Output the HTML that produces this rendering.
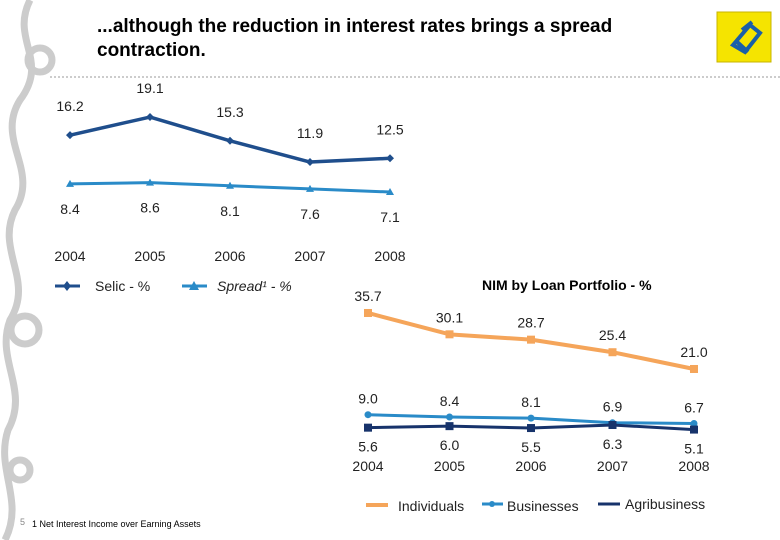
<!DOCTYPE html>
<html><head><meta charset="utf-8"><style>
body{margin:0;background:#fff;}
svg{display:block;font-family:"Liberation Sans",Arial,sans-serif;}
</style></head><body>
<svg id="c" width="780" height="540" viewBox="0 0 780 540">
<g fill="none" stroke="#ccc" stroke-width="7">
<path d="M30 0 C10 40,50 60,20 100 C-5 140,40 170,15 210 C-5 250,35 280,10 320 C-5 360,30 390,8 430 C-5 470,25 500,5 540"/>
<circle cx="40" cy="60" r="12"/><circle cx="25" cy="330" r="14"/><circle cx="20" cy="470" r="10"/>
</g>
<text x="97" y="32" font-size="19" font-weight="bold" fill="#000">...although the reduction in interest rates brings a spread</text>
<text x="97" y="56" font-size="19" font-weight="bold" fill="#000">contraction.</text>
<line x1="50" y1="77" x2="780" y2="77" stroke="#ccc" stroke-width="2" stroke-dasharray="2,2"/>
<g>
<rect x="717" y="12" width="54" height="50" fill="#f5e400" stroke="#c8b400"/>
<path d="M733 45 L750 25 L760 33 L745 52 Z M742 30 L752 22 M735 40 L748 52" fill="none" stroke="#1a5fa8" stroke-width="4"/>
</g>
<g id="left"></g>
<g id="right"></g>
<text x="482" y="290" font-size="14" font-weight="bold">NIM by Loan Portfolio - %</text>
<g>
<line x1="55" y1="286" x2="80" y2="286" stroke="#1f4e8c" stroke-width="3"/><path d="M67 281 L71 286 L67 291 L63 286Z" fill="#1f4e8c"/>
<text x="95" y="291" font-size="14" fill="#222">Selic - %</text>
<line x1="182" y1="286" x2="207" y2="286" stroke="#2a8bc8" stroke-width="3"/><path d="M194 281 L199 290 L189 290Z" fill="#2a8bc8"/>
<text x="217" y="291" font-size="14" font-style="italic" fill="#222">Spread¹ - %</text>
</g>
<g>
<line x1="366" y1="505" x2="388" y2="505" stroke="#f5a55a" stroke-width="4"/>
<text x="398" y="511" font-size="14" fill="#222">Individuals</text>
<line x1="482" y1="504" x2="503" y2="504" stroke="#2a8bc8" stroke-width="3"/><circle cx="492" cy="504" r="3" fill="#2a8bc8"/>
<text x="507" y="511" font-size="14" fill="#222">Businesses</text>
<line x1="598" y1="504" x2="620" y2="504" stroke="#17336b" stroke-width="3"/>
<text x="625" y="509" font-size="14" fill="#222">Agribusiness</text>
</g>
<text x="20" y="525" font-size="9" fill="#888">5</text>
<text x="32" y="527" font-size="9" fill="#000">1  Net Interest Income over Earning Assets</text>
<script>
const years=["2004","2005","2006","2007","2008"];
const selic=[16.2,19.1,15.3,11.9,12.5];
const spread=[8.4,8.6,8.1,7.6,7.1];
const individuals=[35.7,30.1,28.7,25.4,21.0];
const businesses=[9.0,8.4,8.1,6.9,6.7];
const agribusiness=[5.6,6.0,5.5,6.3,5.1];
const NS="http://www.w3.org/2000/svg";
function mk(p,t,a){const e=document.createElementNS(NS,t);for(const k in a)e.setAttribute(k,a[k]);p.appendChild(e);return e;}
function fmt(v){return v.toFixed(1);}
const lx=i=>70+i*80, ly=v=>236.4-6.25*v;
const rx=i=>368+i*81.5, ry=v=>449-3.81*v;
function series(g,vals,X,Y,color,w,name,labDy,marker){
  const pl=mk(g,'polyline',{points:vals.map((v,i)=>X(i)+','+Y(v)).join(' '),fill:'none',stroke:color,'stroke-width':w,'stroke-linejoin':'round'});
  
  
  vals.forEach((v,i)=>{
    const x=X(i),y=Y(v);let m;
    if(marker==='diamond')m=mk(g,'path',{d:`M${x} ${y-4}L${x+4} ${y}L${x} ${y+4}L${x-4} ${y}Z`,fill:color});
    else if(marker==='tri')m=mk(g,'path',{d:`M${x} ${y-4}L${x+4} ${y+3}L${x-4} ${y+3}Z`,fill:color});
    else if(marker==='square')m=mk(g,'rect',{x:x-4,y:y-4,width:8,height:8,fill:color});
    else m=mk(g,'circle',{cx:x,cy:y,r:3.5,fill:color});
    
    
    const t=mk(g,'text',{x:x,y:y+labDy,'font-size':14,'text-anchor':'middle',fill:'#222'});
    t.textContent=fmt(v);
    
    
  });
}
const L=document.getElementById('left'),R=document.getElementById('right');
series(L,selic,lx,ly,'#1f4e8c',3.5,'selic',-24,'diamond');
series(L,spread,lx,ly,'#2a8bc8',3,'spread',30,'tri');
series(R,individuals,rx,ry,'#f5a55a',4,'individuals',-12,'square');
series(R,businesses,rx,ry,'#2a8bc8',3,'businesses',-11,'circle');
series(R,agribusiness,rx,ry,'#17336b',3,'agribusiness',24,'square');
years.forEach((y,i)=>{
  let t=mk(L,'text',{x:lx(i),y:261,'font-size':14,'text-anchor':'middle',fill:'#222'});t.textContent=y;
  
  
  t=mk(R,'text',{x:rx(i),y:471,'font-size':14,'text-anchor':'middle',fill:'#222'});t.textContent=y;
  
  
});
</script>
</svg>
</body></html>
